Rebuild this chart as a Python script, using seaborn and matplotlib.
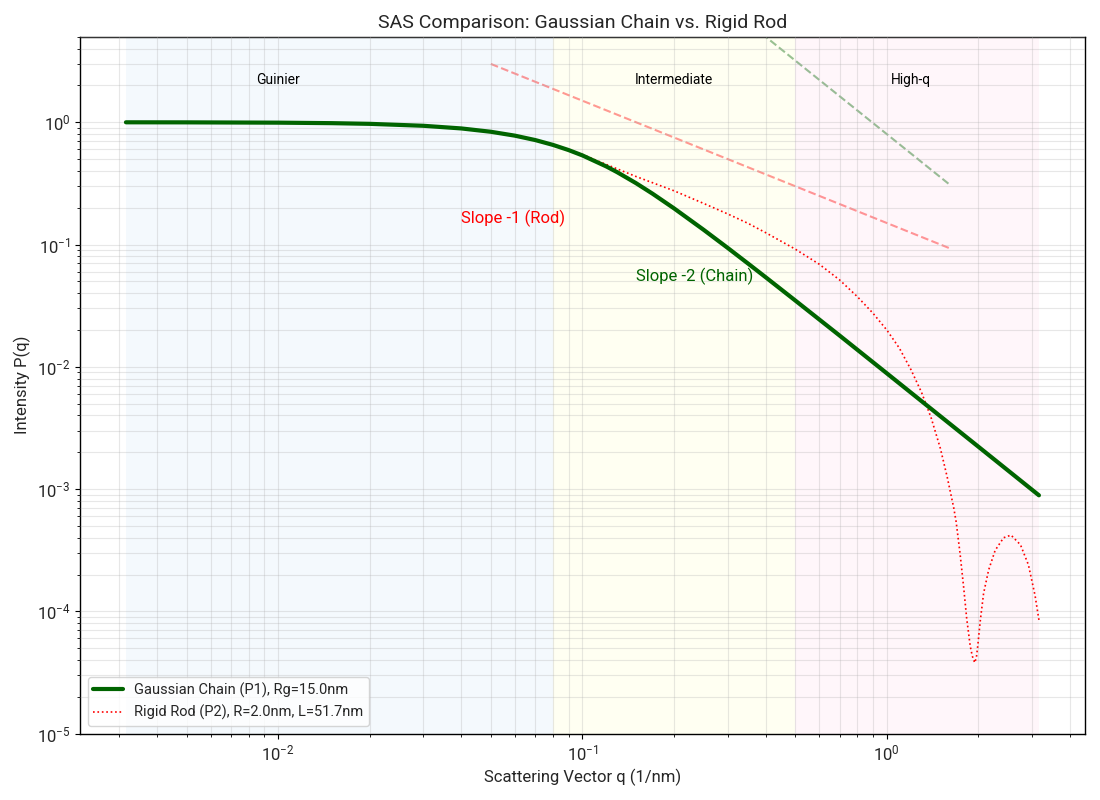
import matplotlib
matplotlib.use("Agg")
import matplotlib.pyplot as plt
import seaborn as sns
import numpy as np
import pandas as pd

# ---- data ----
q_chain = [0.003162, 0.005, 0.01, 0.015, 0.02, 0.03, 0.04, 0.05, 0.06, 0.07, 0.08,
           0.09, 0.1, 0.12, 0.13, 0.15, 0.17, 0.2, 0.25, 0.3, 0.35, 0.4, 0.5, 0.7,
           1.0, 1.5, 2.0, 3.162]
p_chain = [0.99925, 0.9981, 0.9925, 0.9833, 0.9707, 0.9358, 0.8901, 0.8361, 0.7769,
           0.7150, 0.6529, 0.5926, 0.5355, 0.4342, 0.3907, 0.3175, 0.2603, 0.1975,
           0.1321, 0.0939, 0.0699, 0.0540, 0.0349, 0.0180, 0.00885, 0.00394,
           0.00222, 0.000889]

q_rod = [0.003162, 0.005, 0.01, 0.02, 0.03, 0.04, 0.05, 0.06, 0.08, 0.1, 0.12, 0.15,
         0.2, 0.25, 0.3, 0.35, 0.4, 0.5, 0.6, 0.7, 0.8, 0.9, 1.0, 1.1, 1.2, 1.3, 1.4,
         1.5, 1.58, 1.66, 1.69, 1.74, 1.79, 1.83, 1.88, 1.91, 1.945, 1.97, 1.99,
         2.03, 2.08, 2.16, 2.27, 2.42, 2.56, 2.75, 2.92, 3.07, 3.162]
p_rod = [0.99925, 0.9981, 0.9925, 0.9707, 0.9360, 0.8905, 0.8370, 0.7785, 0.657,
         0.545, 0.451, 0.360, 0.275, 0.217, 0.178, 0.149, 0.125, 0.0918, 0.0690,
         0.0513, 0.0375, 0.0275, 0.0200, 0.0142, 0.0095, 0.0062, 0.0038, 0.00215,
         0.00125, 0.00070, 0.00054, 0.00030, 0.000155, 0.000088, 0.000052,
         0.000043, 0.000038, 0.000042, 0.000052, 0.000085, 0.000140, 0.000217,
         0.000315, 0.000400, 0.000420, 0.000350, 0.000240, 0.000135, 0.000085]

guide_q = [0.05, 1.6]
guide_rod = [3.0, 0.09375]      # slope -1
guide_chain = [320.0, 0.3125]   # slope -2

regions = ["Guinier", "Intermediate", "High-q"]
region_bounds = [(0.003162, 0.08), (0.08, 0.5), (0.5, 3.162)]
region_label_q = [0.01, 0.2, 1.2]
region_colors = ["#4a9fe0", "#ffff30", "#ff69b4"]

label_chain = "Gaussian Chain (P1), Rg=15.0nm"
label_rod = "Rigid Rod (P2), R=2.0nm, L=51.7nm"

# ---- style ----
sns.set_theme(style="ticks")
plt.rcParams["font.family"] = ["Roboto", "DejaVu Sans"]
plt.rcParams["mathtext.fontset"] = "custom"
plt.rcParams["mathtext.rm"] = "Roboto"
plt.rcParams["mathtext.it"] = "Roboto:italic"
plt.rcParams["mathtext.bf"] = "Roboto:bold"
plt.rcParams["mathtext.sf"] = "Roboto"

fig, ax = plt.subplots(figsize=(11, 8), dpi=100)
fig.subplots_adjust(left=0.073, right=0.986, top=0.954, bottom=0.083)

for (lo, hi), c in zip(region_bounds, region_colors):
    ax.axvspan(lo, hi, color=c, alpha=0.06, lw=0, zorder=0)

df_chain = pd.DataFrame({"q": q_chain, "P": p_chain})
df_rod = pd.DataFrame({"q": q_rod, "P": p_rod})

sns.lineplot(data=df_chain, x="q", y="P", ax=ax, color="darkgreen", lw=3,
             label=label_chain, zorder=4)
sns.lineplot(data=df_rod, x="q", y="P", ax=ax, color="red", lw=1.2,
             linestyle=":", label=label_rod, zorder=3)

ax.plot(guide_q, guide_rod, color="red", ls="--", alpha=0.4, lw=1.5, zorder=2)
ax.plot(guide_q, guide_chain, color="darkgreen", ls="--", alpha=0.4, lw=1.5, zorder=2)

ax.set_xscale("log")
ax.set_yscale("log")
ax.set_ylim(1e-5, 5)
ax.set_xlim(10 ** -2.65, 10 ** 0.65)

for name, qx in zip(regions, region_label_q):
    ax.text(qx, 2.2, name, ha="center", va="center", fontsize=10, color="black")

ax.text(0.04, 0.15, "Slope -1 (Rod)", color="red", fontsize=12)
ax.text(0.15, 0.05, "Slope -2 (Chain)", color="darkgreen", fontsize=12)

ax.grid(True, which="both", color="#b0b0b0", alpha=0.3, lw=0.8)
ax.set_axisbelow(False)
for s in ax.spines.values():
    s.set_visible(True)
    s.set_color("black")
    s.set_linewidth(1.0)

ax.set_title("SAS Comparison: Gaussian Chain vs. Rigid Rod", fontsize=14)
ax.set_xlabel("Scattering Vector q (1/nm)", fontsize=12)
ax.set_ylabel("Intensity P(q)", fontsize=12)
ax.tick_params(axis="both", which="major", labelsize=12, length=3.5, width=0.8,
               color="black")
ax.tick_params(axis="both", which="minor", length=2, width=0.6, color="black")
ax.legend(loc="lower left", fontsize=10.5, frameon=True)

fig.savefig("out.png", dpi=100)
